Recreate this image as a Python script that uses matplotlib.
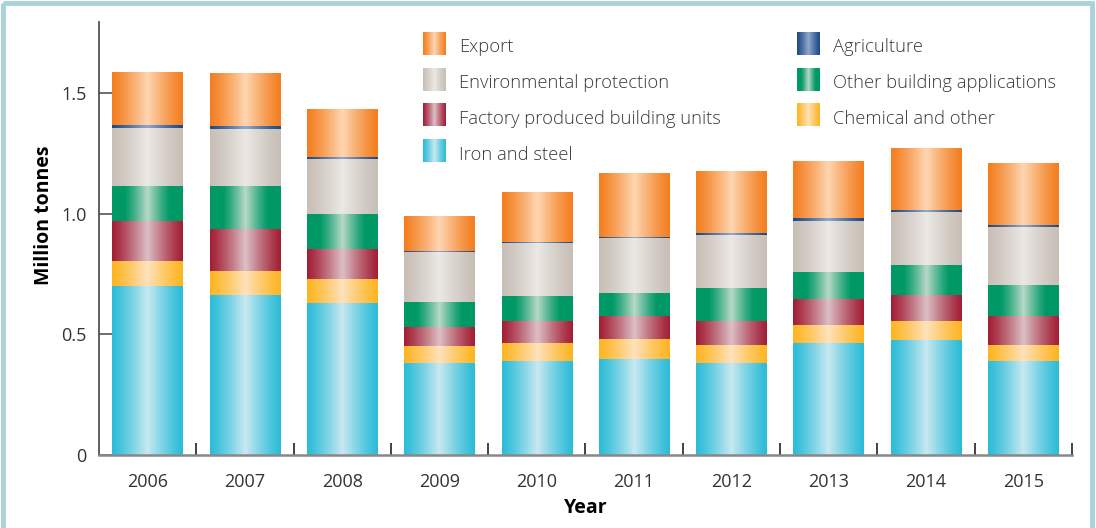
import numpy as np
import matplotlib
matplotlib.use('Agg')
import matplotlib.pyplot as plt
from matplotlib.colors import to_rgb
from matplotlib.patches import Rectangle

plt.rcParams['font.family'] = ['Open Sans', 'DejaVu Sans']

years = ['2006', '2007', '2008', '2009', '2010', '2011', '2012', '2013', '2014', '2015']
iron = [0.700, 0.663, 0.630, 0.381, 0.390, 0.398, 0.381, 0.464, 0.477, 0.390]
chemical = [0.104, 0.099, 0.099, 0.071, 0.074, 0.083, 0.075, 0.075, 0.078, 0.066]
factory = [0.166, 0.175, 0.125, 0.078, 0.091, 0.095, 0.099, 0.108, 0.108, 0.121]
other_building = [0.145, 0.178, 0.145, 0.104, 0.104, 0.095, 0.137, 0.111, 0.124, 0.128]
environmental = [0.242, 0.237, 0.228, 0.207, 0.221, 0.229, 0.220, 0.212, 0.220, 0.240]
agriculture = [0.011, 0.011, 0.008, 0.004, 0.004, 0.005, 0.008, 0.012, 0.008, 0.008]
export = [0.219, 0.216, 0.195, 0.145, 0.206, 0.264, 0.253, 0.236, 0.253, 0.253]

# bottom to top
series = [
    ('Iron and steel', iron, '#2bbcd8', '#c9e9f1', 0.0),
    ('Chemical and other', chemical, '#fdb522', '#ffe2bd', 0.0),
    ('Factory produced building units', factory, '#a31f36', '#dcc0c6', 0.0),
    ('Other building applications', other_building, '#009966', '#b9d9c8', 0.35),
    ('Environmental protection', environmental, '#c8bfb6', '#ebe8e5', 0.0),
    ('Agriculture', agriculture, '#1c4a86', '#93a8cc', 0.0),
    ('Export', export, '#f47e20', '#fed6b2', 0.0),
]


def gradient(edge, center, cut):
    u = np.linspace(0, 1, 256)
    p = 1 - np.abs(2 * u - 1)
    p = np.clip((p - cut) / (1 - cut), 0, 1) ** 1.2
    e = np.array(to_rgb(edge))
    c = np.array(to_rgb(center))
    return (e + (c - e) * p[:, None])[None, :, :]


fig = plt.figure(figsize=(10.96, 5.28), dpi=100)
ax = fig.add_axes([0.0903, 0.1383, 0.8877, 0.8197])

x = np.arange(len(years))
w = 0.725
bottom = np.zeros(len(years))
for name, vals, edge, center, cut in series:
    img = gradient(edge, center, cut)
    for i, v in enumerate(vals):
        ax.imshow(img, extent=[x[i] - w / 2, x[i] + w / 2, bottom[i], bottom[i] + v],
                  aspect='auto', interpolation='bilinear', zorder=2)
    bottom += np.array(vals)

ax.set_xlim(-0.5, 9.5)
ax.set_ylim(0, 1.795)
ax.set_xticks(x)
ax.set_xticklabels(years)
ax.set_xticks(x + 0.5, minor=True)
ax.tick_params(axis='x', which='major', length=0, pad=13, labelsize=13, colors='#333333')
ax.tick_params(axis='x', which='minor', direction='in', length=9, width=1.2, color='#222222')
ax.set_yticks([0, 0.5, 1.0, 1.5])
ax.set_yticklabels(['0', '0.5', '1.0', '1.5'])
ax.tick_params(axis='y', direction='in', length=9.5, width=1.2, pad=9, labelsize=13,
               colors='#333333', color='#555555')
for s in ['top', 'right']:
    ax.spines[s].set_visible(False)
ax.spines['left'].set_color('#444444')
ax.spines['left'].set_linewidth(1.2)
ax.spines['bottom'].set_color('#888888')
ax.spines['bottom'].set_linewidth(1.8)
ax.set_xlabel('Year', fontsize=14, fontweight='bold', labelpad=5)
ax.set_ylabel('Million tonnes', fontsize=14, fontweight='bold', labelpad=5, y=0.555)

# legend drawn in pixel coordinates on an overlay
ov = fig.add_axes([0, 0, 1, 1], zorder=5)
ov.axis('off')
legend_cols = [
    ['Export', 'Environmental protection', 'Factory produced building units', 'Iron and steel'],
    ['Agriculture', 'Other building applications', 'Chemical and other'],
]
lookup = {s[0]: s for s in series}
col_x = [423, 797]
row_y = [43.5, 79.5, 115, 151]
for ci, col in enumerate(legend_cols):
    for ri, name in enumerate(col):
        _, _, edge, center, cut = lookup[name]
        yc = row_y[ri]
        ov.imshow(gradient(edge, center, cut), extent=[col_x[ci], col_x[ci] + 23, yc + 11.5, yc - 11.5],
                  aspect='auto', interpolation='bilinear')
        ov.text(col_x[ci] + 36, yc + 8.8, name, fontsize=13.2, color='#3a3a3a',
                va='baseline', ha='left', fontweight='light')
ov.set_xlim(0, 1096)
ov.set_ylim(528, 0)
ov.add_patch(Rectangle((3, 3), 1089, 540, fill=False, edgecolor='#a8d2dc', linewidth=3.5))

fig.savefig('out.png', dpi=100)
